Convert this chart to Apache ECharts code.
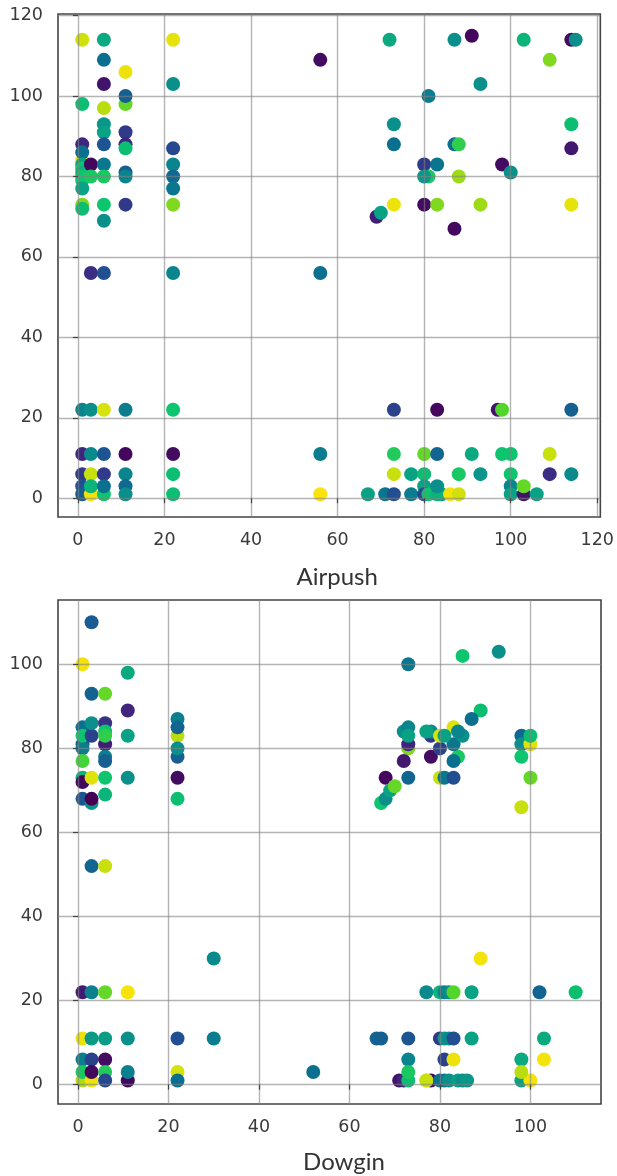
<!DOCTYPE html>
<html><head><meta charset="utf-8">
<script src="https://cdn.jsdelivr.net/npm/echarts@6/dist/echarts.min.js"></script>
<style>html,body{margin:0;padding:0;background:#fff}#c{width:617px;height:1176px}</style>
</head><body><div id="c"></div>
<script>
const airpushTicks = [0,20,40,60,80,100,120];
const airpushYTicks = [0,20,40,60,80,100,120];
const dowginTicks = [0,20,40,60,80,100];
const dowginYTicks = [0,20,40,60,80,100];
const palette = ['#440154','#40257f','#214f92','#0b6f90','#0a8a8c','#0aa284','#0cc56e','#52d62c','#b0dc12','#dfe30a','#fbe30c'];

// [Airpush, target, colour value]
const airpushPoints = [
[1,114,.87],[1,84,.9],[1,88,.1],[1,86,.3],[1,98,.58],[1,83,.5],[1,82,.6],[1,81,.55],[1,80,.6],[1,79,.6],[1,77,.5],[1,73,.75],[1,72,.58],
[3,83,.02],[3,80,.62],[3,56,.12],
[6,114,.52],[6,109,.3],[6,103,.05],[6,97,.82],[6,93,.45],[6,91,.5],[6,88,.22],[6,83,.33],[6,80,.62],[6,73,.6],[6,69,.42],[6,56,.2],
[11,106,.95],[11,98,.72],[11,100,.25],[11,91,.15],[11,88,.1],[11,87,.58],[11,81,.25],[11,80,.38],[11,73,.15],
[22,114,.92],[22,103,.42],[22,87,.18],[22,83,.38],[22,80,.28],[22,77,.33],[22,73,.75],[22,56,.38],
[56,109,.03],[56,56,.3],
[69,70,.08],[70,71,.5],[72,114,.52],[73,93,.42],[73,88,.3],[73,73,.95],
[80,83,.15],[81,80,.62],[80,80,.45],[81,100,.35],[80,73,.03],[83,83,.32],[83,73,.75],
[87,114,.42],[87,88,.3],[87,67,.02],[88,88,.65],[88,80,.78],[91,115,.02],[93,103,.42],[93,73,.78],
[98,83,.03],[100,81,.42],[103,114,.55],[109,109,.75],[114,114,.03],[114,93,.58],[114,87,.06],[114,73,.92],[115,114,.42],
[1,22,.38],[1,11,.1],[1,6,.15],[1,3,.2],[1,1,.25],
[3,22,.42],[3,11,.4],[3,1,.97],[3,6,.85],[3,3,.55],
[6,22,.88],[6,11,.22],[6,6,.15],[6,1,.6],[6,3,.3],
[11,22,.35],[11,11,.02],[11,6,.38],[11,3,.28],[11,1,.42],
[22,22,.6],[22,11,.03],[22,6,.58],[22,1,.58],
[56,11,.35],[56,1,1],
[67,1,.5],[71,1,.32],[73,22,.17],[73,11,.63],[73,6,.85],[73,1,.2],[77,6,.5],[77,1,.35],
[80,11,.72],[80,6,.58],[80,3,.5],[80,1,.18],[81,1,.6],[83,22,.02],[83,11,.27],[84,1,.5],[83,1,.55],[83,3,.42],
[86,1,.97],[88,6,.62],[88,1,.87],[91,11,.52],[93,6,.45],[97,22,.05],[98,22,.7],[98,11,.6],
[100,11,.6],[100,6,.6],[100,3,.38],[100,1,.5],[103,1,.05],[103,3,.72],[106,1,.5],[109,11,.85],[109,6,.12],[114,22,.25],[114,6,.4]
];

// [Dowgin, target, colour value]
const dowginPoints = [
[1,100,.97],[1,85,.3],[1,81,.25],[1,80,.35],[1,83,.6],[1,77,.68],[1,73,.55],[1,72,.02],[1,68,.22],
[3,110,.24],[3,93,.26],[3,83,.17],[3,86,.42],[3,73,.9],[3,67,.45],[3,68,0],[3,52,.27],
[6,93,.72],[6,86,.13],[6,81,.08],[6,84,.6],[6,83,.65],[6,78,.35],[6,77,.25],[6,73,.6],[6,69,.55],[6,52,.85],
[11,98,.52],[11,89,.1],[11,83,.5],[11,73,.42],
[22,87,.36],[22,83,.82],[22,85,.27],[22,78,.25],[22,80,.42],[22,73,.03],[22,68,.58],
[1,22,.07],[1,11,.95],[1,6,.36],[1,1,.8],[1,3,.62],
[3,22,.36],[3,11,.47],[3,6,.17],[3,1,.95],[3,3,.02],
[6,22,.72],[6,11,.48],[6,6,.03],[6,3,.63],[6,1,.18],
[11,22,.98],[11,11,.42],[11,1,.02],[11,3,.36],
[22,11,.2],[22,3,.88],[22,1,.3],
[30,30,.4],[30,11,.35],[52,3,.3],
[77,22,.4],[80,22,.55],[81,22,.35],[82,22,.4],[83,22,.7],[87,22,.5],[102,22,.27],[110,22,.58],
[66,11,.27],[67,11,.25],[73,11,.22],[80,11,.15],[81,11,.45],[82,11,.4],[83,11,.2],[87,11,.5],[103,11,.52],
[73,6,.38],[81,6,.17],[83,6,.95],[98,6,.52],[103,6,.98],
[71,1,.05],[72,1,.1],[73,1,.58],[78,1,.02],[77,1,.97],[77,1,.85],[80,1,.3],[81,1,.33],[82,1,.42],[84,1,.48],[85,1,.42],[86,1,.45],[98,1,.5],[100,1,.97],
[73,3,.62],[98,3,.82],
[93,103,.42],[73,100,.33],[85,102,.6],[89,89,.58],[87,87,.3],[89,30,.97],
[73,80,.75],[73,81,.1],[72,84,.42],[73,85,.38],[73,83,.5],[72,77,.06],[73,73,.27],[68,73,.02],
[67,67,.6],[68,68,.42],[69,70,.5],[70,71,.72],
[78,83,.15],[78,84,.4],[77,84,.5],[78,78,.03],[80,80,.17],[84,78,.62],[83,81,.33],[83,77,.3],
[83,85,.9],[80,83,.88],[81,83,.5],[85,83,.42],[84,84,.38],
[80,73,.85],[81,73,.33],[83,73,.2],
[98,83,.28],[98,81,.42],[98,78,.6],[98,66,.85],[100,81,.9],[100,83,.58],[100,73,.72]
];

const tickFont = {fontFamily:'DejaVu Sans',fontSize:17.5,color:'#3a3a3a'};
const gridLine = {show:true,lineStyle:{color:'rgba(130,130,130,0.6)',width:1.4}};
function xAx(i,ticks,min,max,name,gap,pad){return {
  type:'value',gridIndex:i,min,max,z:3,name,nameLocation:'middle',nameGap:gap,
  nameTextStyle:{fontFamily:'Lato',fontSize:24,color:'#333',padding:[0,0,0,pad]},
  axisLine:{show:false},
  axisTick:{show:true,length:5,customValues:ticks,lineStyle:{color:'#444',width:1.2}},
  axisLabel:{...tickFont,margin:14,customValues:ticks,hideOverlap:false},
  splitLine:{...gridLine,customValues:ticks}
};}
function yAx(i,ticks,min,max){return {
  type:'value',gridIndex:i,min,max,z:3,
  axisLine:{show:false},
  axisTick:{show:true,length:5,customValues:ticks,lineStyle:{color:'#444',width:1.2}},
  axisLabel:{...tickFont,margin:15,customValues:ticks,hideOverlap:false},
  splitLine:{...gridLine,customValues:ticks}
};}
function sr(i,d){return {type:'scatter',xAxisIndex:i,yAxisIndex:i,data:d,symbolSize:14,silent:true,z:2,itemStyle:{opacity:1}};}

const chart = echarts.init(document.getElementById('c'),null,{renderer:'canvas'});
chart.setOption({
  animation:false,backgroundColor:'#fff',
  grid:[
    {left:58,top:14,width:543,height:503,show:true,borderColor:'#444',borderWidth:1.6,backgroundColor:'#fff'},
    {left:58,top:600,width:543,height:504,show:true,borderColor:'#444',borderWidth:1.6,backgroundColor:'#fff'}
  ],
  xAxis:[xAx(0,airpushTicks,-4.6,120.7,'Airpush',48,16),xAx(1,dowginTicks,-4.42,115.6,'Dowgin',46,29)],
  yAxis:[yAx(0,airpushYTicks,-4.65,120.4),yAx(1,dowginYTicks,-4.6,115.3)],
  visualMap:{show:false,type:'continuous',min:0,max:1,dimension:2,seriesIndex:[0,1],inRange:{color:palette}},
  series:[sr(0,airpushPoints),sr(1,dowginPoints)]
});
</script></body></html>
